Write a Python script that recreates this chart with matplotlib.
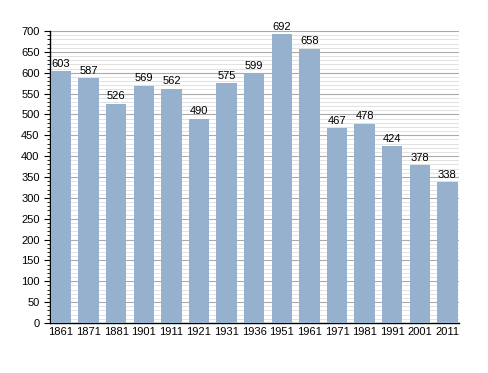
import numpy as np
import matplotlib.pyplot as plt
from matplotlib.ticker import MultipleLocator

plt.rcParams['font.family'] = ['Liberation Sans', 'DejaVu Sans']

years = ['1861', '1871', '1881', '1901', '1911', '1921', '1931', '1936',
         '1951', '1961', '1971', '1981', '1991', '2001', '2011']
population = [603, 587, 526, 569, 562, 490, 575, 599, 692, 658, 467, 478, 424, 378, 338]

fig = plt.figure(figsize=(4.88, 3.73), dpi=100)
ax = fig.add_axes([50/488, 50/373, 409/488, 292/373])

x = np.arange(len(years))
ax.bar(x, population, width=0.74, color='#96b1cd', zorder=3)

for xi, v in zip(x, population):
    ax.text(xi, v + 6, str(v), ha='center', va='bottom', fontsize=8, zorder=4)

ax.set_xlim(-0.4, len(years) - 1 + 0.42)
ax.set_ylim(0, 700)
ax.yaxis.set_major_locator(MultipleLocator(50))
ax.yaxis.set_minor_locator(MultipleLocator(10))
ax.grid(which='major', axis='y', color='#aaaaaa', linewidth=0.8, zorder=0)
ax.grid(which='minor', axis='y', color='#dddddd', linewidth=0.6, zorder=0)

ax.set_xticks(x)
ax.set_xticklabels(years)
ax.tick_params(axis='x', length=0, labelsize=8, pad=3)
ax.tick_params(axis='y', which='major', length=4, labelsize=8, width=0.8)
ax.tick_params(axis='y', which='minor', length=2, width=0.6)

for s in ['top', 'right']:
    ax.spines[s].set_visible(False)
ax.spines['left'].set_linewidth(1)
ax.spines['bottom'].set_linewidth(1)

fig.savefig('out.png', dpi=100)
